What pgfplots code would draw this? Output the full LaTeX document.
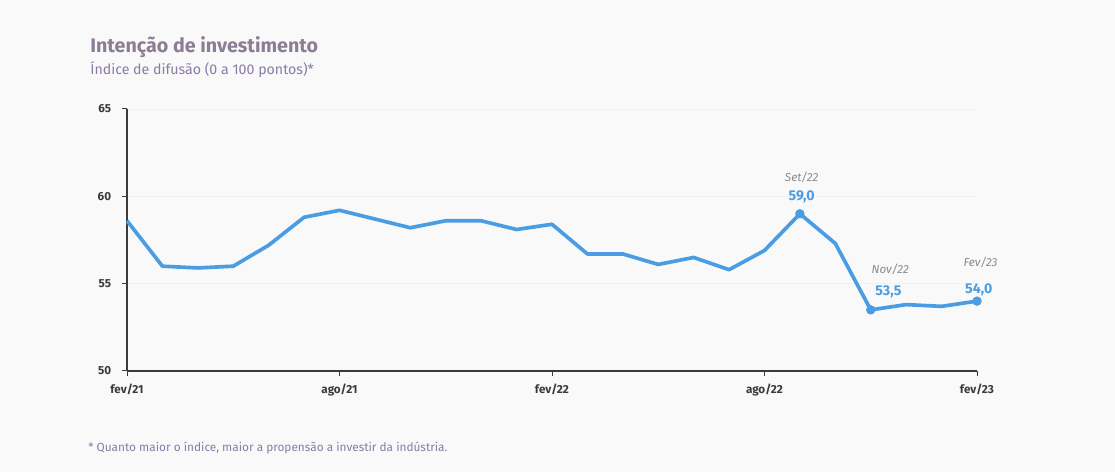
\documentclass[border=0pt]{standalone}
\usepackage{fontspec}
\setmainfont{Fira Sans}
\usepackage{pgfplots}
\pgfplotsset{compat=1.18}
\definecolor{linec}{HTML}{4A9DE3}
\definecolor{titc}{HTML}{8A7D94}
\definecolor{subc}{HTML}{8A7BA6}
\definecolor{tickc}{HTML}{3A3A3A}
\definecolor{annc}{HTML}{8A8A8A}
\definecolor{bgc}{HTML}{F9F9F9}
\begin{document}
\begin{tikzpicture}[x=0.6pt,y=0.6pt]
\fill[bgc] (0,0) rectangle (1115,472);
\useasboundingbox (0,0) rectangle (1115,472);
\node[anchor=west,inner sep=0pt,text=titc,font=\bfseries\fontsize{11.8}{14}\selectfont] at (90,425) {Intenção de investimento};
\node[anchor=west,inner sep=0pt,text=subc,font=\fontsize{8.5}{10}\selectfont] at (90,402) {Índice de difusão (0 a 100 pontos)*};
\node[anchor=west,inner sep=0pt,text=subc,font=\fontsize{7.1}{8}\selectfont] at (88,24) {* Quanto maior o índice, maior a propensão a investir da indústria.};
\begin{axis}[
  at={(127*0.6pt,101*0.6pt)}, anchor=origin,
  scale only axis,
  width=510pt, height=157.2pt,
  xmin=0, xmax=24, ymin=50, ymax=65,
  axis x line*=bottom, axis y line*=left,
  axis line style={tickc, line width=0.7pt},
  xtick={0,6,12,18,24},
  xticklabels={fev/21,ago/21,fev/22,ago/22,fev/23},
  ytick={50,55,60,65},
  tick style={tickc, line width=0.6pt},
  tick align=outside,
  major tick length=3pt,
  ymajorgrids, grid style={gray!12, line width=0.5pt},
  ticklabel style={text=tickc, font=\bfseries\fontsize{7}{8}\selectfont},
  /pgf/number format/assume math mode=true,
  xticklabel style={yshift=-1pt},
  yticklabel style={xshift=-3pt},
  clip=false,
]
\addplot[linec, line width=2.2pt, line join=round, mark=none] coordinates {
(0,58.6) (1,56.0) (2,55.9) (3,56.0) (4,57.2) (5,58.8) (6,59.2) (7,58.7)
(8,58.2) (9,58.6) (10,58.6) (11,58.1) (12,58.4) (13,56.7) (14,56.7) (15,56.1)
(16,56.5) (17,55.8) (18,56.9) (19,59.0) (20,57.3) (21,53.5) (22,53.8) (23,53.7) (24,54.0)
};
\addplot[only marks, mark=*, mark size=2.6pt, linec] coordinates {(19,59.0) (21,53.5) (24,54.0)};
\node[text=annc, font=\itshape\fontsize{7}{8}\selectfont] at (axis cs:19.05,61.1) {Set/22};
\node[text=linec, font=\bfseries\fontsize{8.5}{10}\selectfont] at (axis cs:19.05,59.95) {59,0};
\node[text=annc, font=\itshape\fontsize{7}{8}\selectfont] at (axis cs:21.55,55.8) {Nov/22};
\node[text=linec, font=\bfseries\fontsize{8.5}{10}\selectfont] at (axis cs:21.5,54.55) {53,5};
\node[text=annc, font=\itshape\fontsize{7}{8}\selectfont] at (axis cs:24.1,56.2) {Fev/23};
\node[text=linec, font=\bfseries\fontsize{8.5}{10}\selectfont] at (axis cs:24.05,54.65) {54,0};
\end{axis}
\end{tikzpicture}
\end{document}
